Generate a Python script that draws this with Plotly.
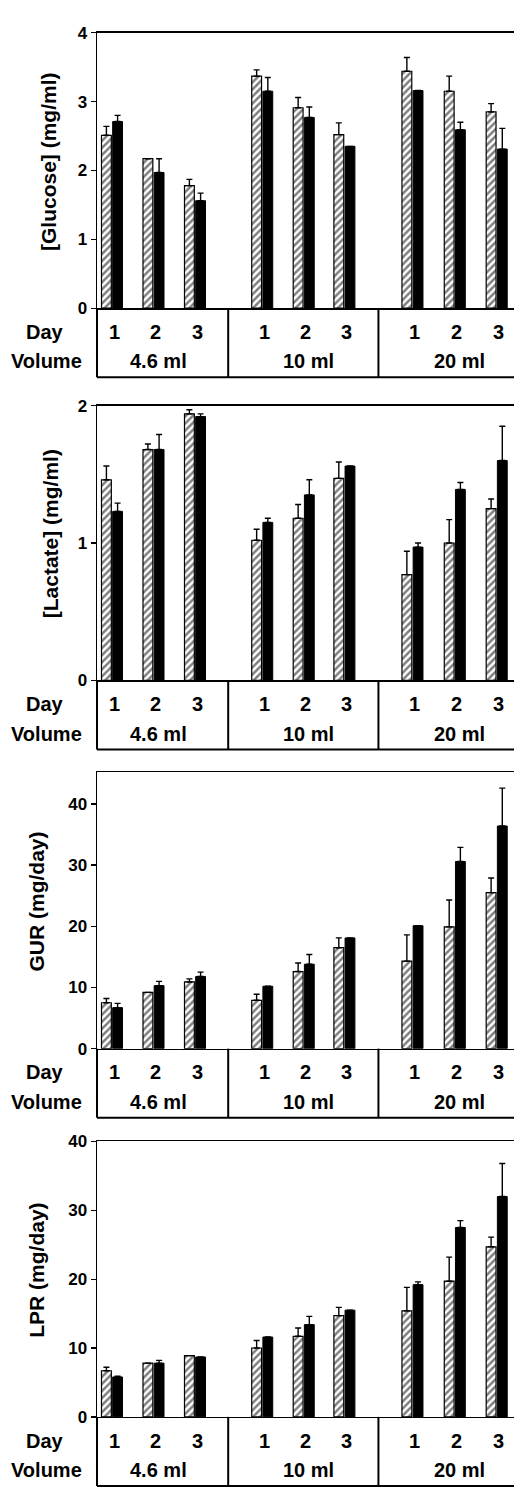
import plotly.graph_objects as go

# ---------------- data ----------------
days = ["1", "2", "3"]
volumes = ["4.6 ml", "10 ml", "20 ml"]

glucose_h = [2.51, 2.17, 1.78, 3.37, 2.91, 2.52, 3.44, 3.15, 2.85]
glucose_h_err = [0.13, 0.0, 0.09, 0.09, 0.15, 0.17, 0.20, 0.22, 0.12]
glucose_b = [2.71, 1.97, 1.56, 3.15, 2.77, 2.35, 3.16, 2.59, 2.31]
glucose_b_err = [0.09, 0.20, 0.11, 0.20, 0.15, 0.0, 0.0, 0.11, 0.30]

lactate_h = [1.46, 1.68, 1.94, 1.02, 1.18, 1.47, 0.77, 1.00, 1.25]
lactate_h_err = [0.10, 0.04, 0.03, 0.08, 0.10, 0.12, 0.17, 0.17, 0.07]
lactate_b = [1.23, 1.68, 1.92, 1.15, 1.35, 1.56, 0.97, 1.39, 1.60]
lactate_b_err = [0.06, 0.11, 0.02, 0.03, 0.11, 0.0, 0.03, 0.05, 0.25]

gur_h = [7.5, 9.2, 10.9, 7.9, 12.6, 16.5, 14.3, 19.9, 25.5]
gur_h_err = [0.7, 0.0, 0.5, 1.0, 1.4, 1.6, 4.3, 4.4, 2.4]
gur_b = [6.7, 10.3, 11.8, 10.2, 13.8, 18.1, 20.1, 30.6, 36.4]
gur_b_err = [0.7, 0.7, 0.7, 0.0, 1.6, 0.0, 0.0, 2.3, 6.2]

lpr_h = [6.7, 7.8, 8.9, 10.0, 11.7, 14.7, 15.4, 19.7, 24.7]
lpr_h_err = [0.5, 0.0, 0.0, 1.1, 1.2, 1.2, 3.4, 3.5, 1.4]
lpr_b = [5.8, 7.8, 8.7, 11.6, 13.4, 15.5, 19.2, 27.5, 32.0]
lpr_b_err = [0.1, 0.4, 0.0, 0.0, 1.2, 0.0, 0.4, 1.0, 4.8]

# ---------------- layout constants ----------------
W, H = 514, 1496
FONT = "Liberation Sans, Arial, sans-serif"
xpos = [0, 1, 2, 3.62, 4.62, 5.6, 7.24, 8.26, 9.27]
dividers = [2.8, 6.42]
XLEFT_PX = 97
PX_PER_UNIT = 41.5
X0_PX = 112
xrange_ = [(XLEFT_PX - X0_PX) / PX_PER_UNIT, (W - X0_PX) / PX_PER_UNIT]


def py(p):
    return 1 - p / H


panels = [
    dict(title="[Glucose] (mg/ml)", h=glucose_h, he=glucose_h_err, b=glucose_b, be=glucose_b_err,
         top=24, zero=303, rng=[0, 4], ticks=[0, 1, 2, 3, 4], ty=155, tx=48),
    dict(title="[Lactate] (mg/ml)", h=lactate_h, he=lactate_h_err, b=lactate_b, be=lactate_b_err,
         top=401.7, zero=680, rng=[0, 2], ticks=[0, 1, 2], ty=532, tx=50),
    dict(title="GUR (mg/day)", h=gur_h, he=gur_h_err, b=gur_b, be=gur_b_err,
         top=773, zero=1053, rng=[0, 45.2], ticks=[0, 10, 20, 30, 40], ty=904, tx=37),
    dict(title="LPR (mg/day)", h=lpr_h, he=lpr_h_err, b=lpr_b, be=lpr_b_err,
         top=1147, zero=1426, rng=[0, 40], ticks=[0, 10, 20, 30, 40], ty=1278, tx=37),
]

fig = go.Figure()
shapes = []
annotations = []
layout = {}

for i, p in enumerate(panels):
    k = "" if i == 0 else str(i + 1)
    xa, ya = "x" + k, "y" + k
    fig.add_trace(go.Bar(
        x=xpos, y=p["h"], xaxis=xa, yaxis=ya, showlegend=False, hoverinfo="skip",
        marker=dict(color="white", line=dict(color="black", width=1.2),
                    pattern=dict(shape="/", fgcolor="black", bgcolor="white", size=5, solidity=0.5)),
        error_y=dict(type="data", symmetric=False, array=p["he"], arrayminus=[0] * 9,
                     color="black", thickness=1.4, width=3),
    ))
    fig.add_trace(go.Bar(
        x=xpos, y=p["b"], xaxis=xa, yaxis=ya, showlegend=False, hoverinfo="skip",
        marker=dict(color="black", line=dict(color="black", width=1)),
        error_y=dict(type="data", symmetric=False, array=p["be"], arrayminus=[0] * 9,
                     color="black", thickness=1.4, width=3),
    ))
    layout["xaxis" + k] = dict(
        domain=[XLEFT_PX / W, 1], range=xrange_, anchor=ya, showline=True, mirror=True,
        linecolor="black", linewidth=1.5, showticklabels=False, ticks="", showgrid=False, zeroline=False)
    layout["yaxis" + k] = dict(
        domain=[py(p["zero"]), py(p["top"])], range=p["rng"], anchor=xa, showline=True,
        linecolor="black", linewidth=1.5, ticks="outside", ticklen=5, tickwidth=1.3,
        tickcolor="black", tickvals=p["ticks"], showgrid=False, zeroline=False,
        tickfont=dict(family=FONT, size=17, color="black", weight="bold"))

    # table under the plot
    z = p["zero"]
    tb = min(z + 70, H + 5)
    shapes.append(dict(type="line", xref="paper", yref="paper", x0=XLEFT_PX / W, x1=XLEFT_PX / W,
                       y0=py(z), y1=py(tb), line=dict(color="black", width=2)))
    for d in dividers:
        shapes.append(dict(type="line", xref=xa, yref="paper", x0=d, x1=d,
                           y0=py(z), y1=py(tb), line=dict(color="black", width=2)))
    shapes.append(dict(type="line", xref="paper", yref="paper", x0=XLEFT_PX / W, x1=1,
                       y0=py(tb), y1=py(tb), line=dict(color="black", width=2)))

    tf = dict(family=FONT, size=20, color="black", weight="bold")
    annotations.append(dict(text="Day", xref="paper", yref="paper", x=45 / W, y=py(z + 24),
                            showarrow=False, font=tf, xanchor="center", yanchor="middle"))
    annotations.append(dict(text="Volume", xref="paper", yref="paper", x=46 / W, y=py(z + 54),
                            showarrow=False, font=tf, xanchor="center", yanchor="middle"))
    for j, xp in enumerate(xpos):
        annotations.append(dict(text=days[j % 3], xref=xa, yref="paper", x=xp + 0.05, y=py(z + 24),
                                showarrow=False, font=tf, xanchor="center", yanchor="middle"))
    for g, v in enumerate(volumes):
        annotations.append(dict(text=v, xref=xa, yref="paper", x=xpos[3 * g + 1] + 0.12, y=py(z + 54),
                                showarrow=False, font=tf, xanchor="center", yanchor="middle"))
    annotations.append(dict(text=p["title"], xref="paper", yref="paper", x=p["tx"] / W, y=py(p["ty"]),
                            showarrow=False, textangle=-90, xanchor="center", yanchor="middle",
                            font=dict(family=FONT, size=21, color="black", weight="bold")))

fig.update_layout(
    width=W, height=H, margin=dict(l=0, r=0, t=0, b=0),
    paper_bgcolor="white", plot_bgcolor="white",
    barmode="group", bargap=0.45, bargroupgap=0.12,
    shapes=shapes, annotations=annotations, **layout)

fig.write_html("out.html", config={"displayModeBar": False, "staticPlot": True},
               post_script="document.body.style.margin='0';document.body.style.overflow='hidden';")
